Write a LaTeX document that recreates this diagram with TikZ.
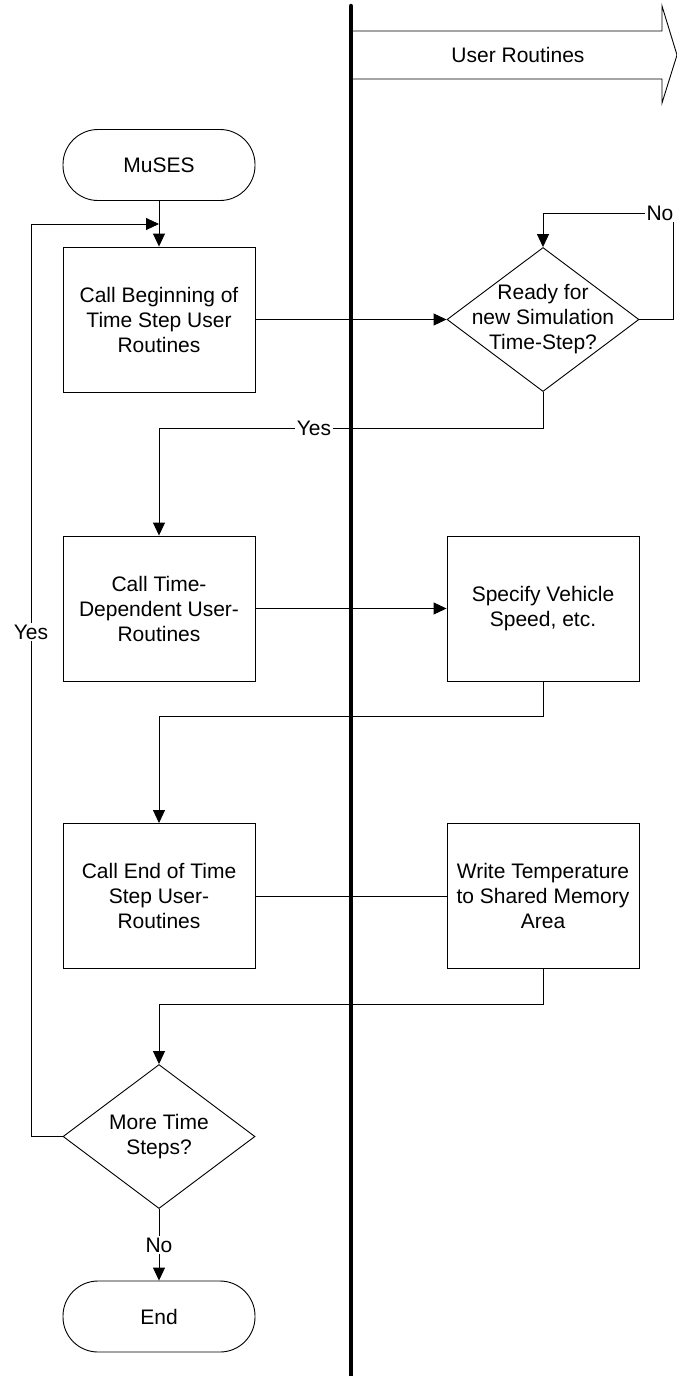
\documentclass[tikz,border=0pt]{standalone}
\usepackage{fontspec}
\setmainfont{Liberation Sans}
\usetikzlibrary{arrows.meta,shapes.geometric}
\begin{document}
\begin{tikzpicture}[x=1pt,y=-1pt,
  every node/.style={font=\fontsize{21}{25}\selectfont},
  proc/.style={draw,line width=0.9pt,minimum width=192pt,minimum height=145pt,inner sep=0,align=center},
  term/.style={draw,line width=0.9pt,minimum width=192pt,minimum height=71pt,rounded corners=35pt,inner sep=0},
  dec/.style={draw,diamond,line width=0.9pt,minimum width=192pt,minimum height=144pt,inner sep=0},
  txt/.style={align=center,inner sep=0},
  conn/.style={line width=0.9pt},
  arr/.style={conn,-{Triangle[length=13pt,width=12pt]}},
  lab/.style={fill=white,inner sep=1.5pt},
  lane/.style={line width=4.5pt,line cap=round}
]
\useasboundingbox (0,0) rectangle (677,1376);

% swimlane arrow
\draw[conn] (351,31) -- (662,31) -- (662,6) -- (677,55) -- (662,103) -- (662,79) -- (351,79);
\node (ur) at (518,55) {User Routines};

% nodes
\node[term] (muses) at (159,165) {MuSES};
\node[proc] (b1) at (159,319.5) {Call Beginning of\\Time Step User\\Routines};
\node[dec] (d1) at (543,319.5) {};
\node[txt] (d1t) at (d1.center) {Ready for\\new Simulation\\Time-Step?};
\node[proc] (b2) at (159,608.5) {Call Time-\\Dependent User-\\Routines};
\node[proc] (b3) at (543,608.5) {Specify Vehicle\\Speed, etc.};
\node[proc] (b4) at (159,896) {Call End of Time\\Step User-\\Routines};
\node[proc] (b5) at (543,896) {Write Temperature\\to Shared Memory\\Area};
\node[dec] (d2) at (159,1136.5) {};
\node[txt] (d2t) at (d2.center) {More Time\\Steps?};
\node[term] (end) at (159,1316.5) {End};

\coordinate (j1) at (159,224);

% connectors
\draw[arr] (muses) -- (b1);
\draw[arr] (b1) -- (d1);
\draw[arr] (d1.east) -| (673,213) -| (d1.north);
\node[lab] (no1) at (660,213) {No};
\draw[arr] (d1.south) |- (159,428) -- (b2.north);
\node[lab] (yes1) at (314,428) {Yes};
\draw[arr] (b2) -- (b3);
\draw[arr] (b3.south) |- (159,716) -- (b4.north);
\draw[conn] (b4) -- (b5);
\draw[arr] (b5.south) |- (159,1004) -- (d2.north);
\draw[arr] (d2.west) -| (31,224) -- (j1);
\node[lab] (yes2) at (31,632) {Yes};
\draw[arr] (d2.south) -- (end.north);
\node[lab] (no2) at (159,1245) {No};

% lane divider
\draw[lane] (351,6) -- (351,1390);
\end{tikzpicture}
\end{document}
